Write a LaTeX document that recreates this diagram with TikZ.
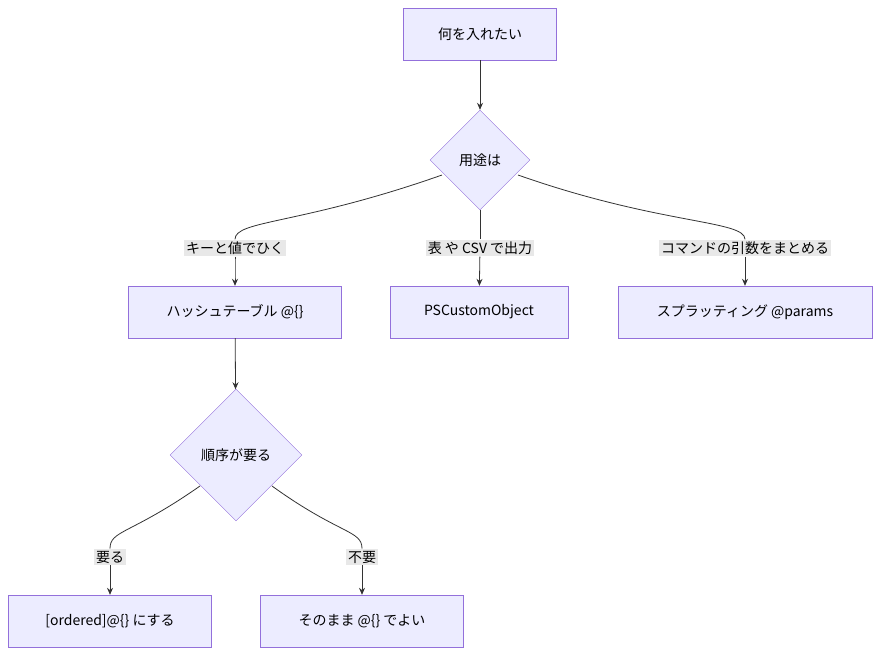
\documentclass[tikz,border=0pt]{standalone}
\usepackage{fontspec}
\setmainfont{Noto Sans CJK JP}
\usetikzlibrary{positioning, arrows.meta, shapes.geometric}
\definecolor{boxfill}{HTML}{ECECFF}
\definecolor{boxline}{HTML}{9370DB}
\definecolor{edgeline}{HTML}{333333}
\definecolor{lblfill}{HTML}{E8E8E8}

\begin{document}
\begin{tikzpicture}[
        x=1pt, y=-1pt,
        >={Stealth[length=7pt,width=6pt]},
        font=\fontsize{14}{16}\selectfont,
        box/.style={draw=boxline, fill=boxfill, rectangle, minimum height=52pt, inner sep=0pt},
        ask/.style={draw=boxline, fill=boxfill, diamond, aspect=1, inner sep=0pt},
        lbl/.style={fill=lblfill, inner sep=2pt},
        flow/.style={draw=edgeline, line width=0.8pt},
    ]
    \useasboundingbox (0,0) rectangle (888,662);

    % Nodes
    \node[box, minimum width=153pt] (want) at (480,34) {何を入れたい};
    \node[ask, minimum size=100pt] (use) at (480,160) {用途は};
    \node[box, minimum width=213pt] (hash) at (235,312) {ハッシュテーブル @\{\}};
    \node[box, minimum width=178pt] (pso) at (479,312) {PSCustomObject};
    \node[box, minimum width=254pt] (splat) at (745,312) {スプラッティング @params};
    \node[ask, minimum size=132pt] (order) at (236,455) {順序が要る};
    \node[box, minimum width=203pt] (ord) at (110,621) {[ordered]@\{\} にする};
    \node[box, minimum width=203pt] (plain) at (362,621) {そのまま @\{\} でよい};

    % Edge labels
    \node[lbl] (l-key) at (235,248) {キーと値でひく};
    \node[lbl] (l-csv) at (480,248) {表 や CSV で出力};
    \node[lbl] (l-cmd) at (745,248) {コマンドの引数をまとめる};
    \node[lbl] (l-need) at (110,557) {要る};
    \node[lbl] (l-no) at (362,557) {不要};

    % Edges
    \draw[flow, ->] (want) -- (use);
    \draw[flow] (use.south) -- (l-csv);
    \draw[flow, ->] (l-csv) -- (pso);
    \draw[flow] (442,175) .. controls (300,225) and (235,220) .. (l-key.north);
    \draw[flow, ->] (l-key) to[out=-90,in=90] (hash);
    \draw[flow] (518,175) .. controls (660,225) and (745,220) .. (l-cmd.north);
    \draw[flow, ->] (l-cmd) to[out=-90,in=90] (splat);
    \draw[flow, ->] (hash) -- (order);
    \draw[flow] (200,486) .. controls (130,535) and (110,530) .. (l-need.north);
    \draw[flow, ->] (l-need) -- (ord);
    \draw[flow] (272,486) .. controls (340,535) and (362,530) .. (l-no.north);
    \draw[flow, ->] (l-no) -- (plain);
\end{tikzpicture}
\end{document}
